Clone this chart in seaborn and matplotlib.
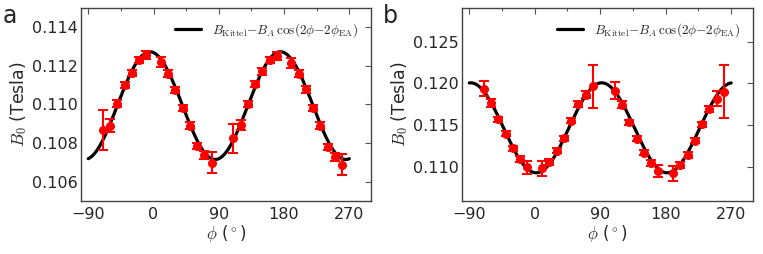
import numpy as np
import pandas as pd
import seaborn as sns
import matplotlib
matplotlib.use("Agg")
import matplotlib.pyplot as plt
from matplotlib.ticker import MultipleLocator

# measured angles (deg), same for both samples
phi = [-70, -60, -50, -40, -30, -20, -10, 10, 20, 30, 40, 50, 60, 70, 80,
       110, 120, 130, 140, 150, 160, 170, 190, 200, 210, 220, 230, 240, 250, 260]

# panel a
b0_a = [0.10866, 0.10891, 0.11005, 0.11099, 0.11164, 0.11231, 0.11257, 0.11221,
        0.11160, 0.11075, 0.10983, 0.10891, 0.10786, 0.10739, 0.10699,
        0.10824, 0.10894, 0.11004, 0.11105, 0.11171, 0.11231, 0.11252, 0.11214,
        0.11160, 0.11078, 0.10983, 0.10891, 0.10780, 0.10727, 0.10689]
err_a = [0.00103, 0.00033, 0.00016, 0.00016, 0.00016, 0.00016, 0.00022, 0.00026,
         0.00016, 0.00016, 0.00016, 0.00016, 0.00016, 0.00020, 0.00056,
         0.00077, 0.00028, 0.00016, 0.00016, 0.00016, 0.00016, 0.00021, 0.00027,
         0.00016, 0.00016, 0.00016, 0.00016, 0.00016, 0.00020, 0.00056]

# panel b
b0_b = [0.11940, 0.11768, 0.11576, 0.11400, 0.11228, 0.11096, 0.11000, 0.10988,
        0.11068, 0.11200, 0.11348, 0.11556, 0.11756, 0.11868, 0.11968,
        0.11916, 0.11748, 0.11540, 0.11340, 0.11176, 0.11048, 0.10960, 0.10928,
        0.11028, 0.11148, 0.11316, 0.11516, 0.11696, 0.11820, 0.11900]
err_b = [0.00094, 0.00050, 0.00030, 0.00030, 0.00030, 0.00035, 0.00080, 0.00086,
         0.00035, 0.00030, 0.00030, 0.00030, 0.00035, 0.00045, 0.00256,
         0.00096, 0.00046, 0.00030, 0.00030, 0.00030, 0.00035, 0.00074, 0.00088,
         0.00035, 0.00030, 0.00030, 0.00030, 0.00035, 0.00092, 0.00316]

# fit parameters (B_Kittel, B_A, phi_EA)
fit_a = (0.10994, 0.00279, 85.0)
fit_b = (0.11472, 0.00536, 2.0)

ylims = [(0.105, 0.115), (0.106, 0.129)]
yticks = [[0.106, 0.108, 0.110, 0.112, 0.114], [0.110, 0.115, 0.120, 0.125]]
panel_labels = ["a", "b"]

legend_label = r"$B_{\rm Kittel}{-}B_A\,\cos(2\phi{-}2\phi_{\rm EA})$"

sns.set_theme(style="white")
plt.rcParams["font.family"] = ["DejaVu Sans"]
plt.rcParams["mathtext.fontset"] = "cm"
plt.rcParams["xtick.direction"] = "in"
plt.rcParams["ytick.direction"] = "in"

fig = plt.figure(figsize=(7.63, 2.54), dpi=100)
axes = [fig.add_axes([0.1062, 0.2087, 0.3801, 0.760]),
        fig.add_axes([0.6055, 0.2087, 0.3814, 0.760])]

phi_fit = np.linspace(-90, 270, 400)

for i, (ax, b0, err, fit) in enumerate(zip(axes, [b0_a, b0_b], [err_a, err_b], [fit_a, fit_b])):
    bk, ba, phi_ea = fit
    curve = pd.DataFrame({
        "phi": phi_fit,
        "B0": bk - ba * np.cos(np.radians(2 * phi_fit - 2 * phi_ea)),
    })
    sns.lineplot(data=curve, x="phi", y="B0", ax=ax, color="black", lw=2.3,
                 label=legend_label, zorder=2)
    ax.errorbar(phi, b0, yerr=err, fmt="o", color="red", ms=5.5, mec="red",
                elinewidth=1.5, capsize=3.5, capthick=1.5, zorder=3)

    ax.set_xlim(-100, 300)
    ax.set_ylim(*ylims[i])
    ax.xaxis.set_major_locator(MultipleLocator(90))
    ax.xaxis.set_minor_locator(MultipleLocator(45))
    ax.set_yticks(yticks[i])
    ax.set_yticklabels([f"{v:.3f}" for v in yticks[i]])
    ax.tick_params(which="both", top=True, right=True, labelsize=11.5,
                   color="#555555")
    ax.tick_params(axis="y", pad=2.5)
    ax.tick_params(axis="x", pad=4)
    ax.tick_params(which="major", length=4, width=0.8)
    ax.tick_params(which="minor", length=2, width=0.8)
    for s in ax.spines.values():
        s.set_color("#444444")
        s.set_linewidth(1.0)

    ax.set_xlabel(r"$\phi$ ($^\circ$)", fontsize=12, labelpad=1)
    ax.set_ylabel(r"$B_0$ (Tesla)", fontsize=12.5, labelpad=2)
    ax.legend(loc="upper right", frameon=False, fontsize=9.5, handlelength=2.0,
              borderaxespad=0.6)

    fig.text(0.004 if i == 0 else 0.502, 0.985, panel_labels[i], fontsize=17,
             ha="left", va="top")

fig.savefig("out.png", dpi=100)
